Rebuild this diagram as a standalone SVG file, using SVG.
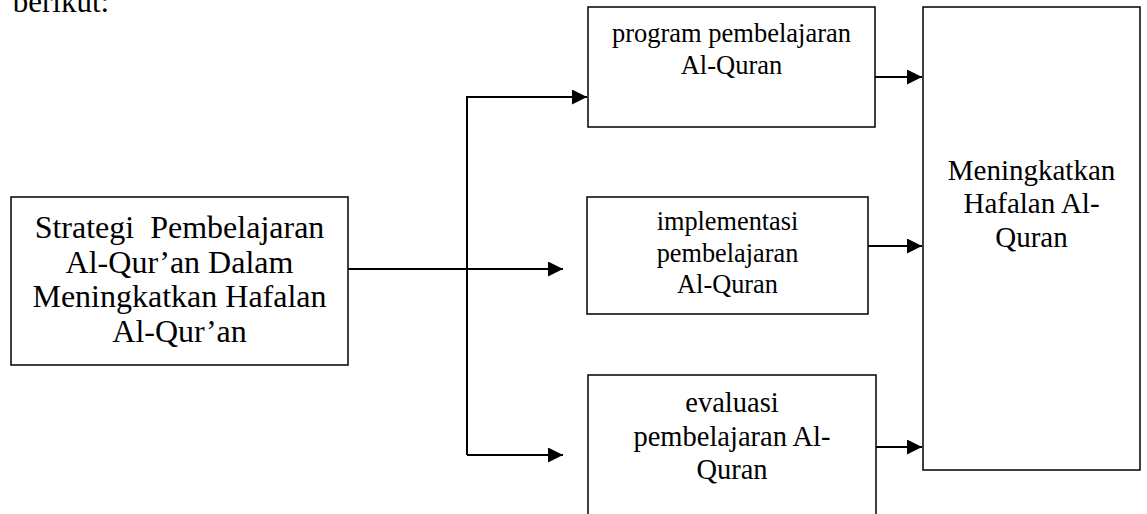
<svg xmlns="http://www.w3.org/2000/svg" width="1147" height="514" viewBox="0 0 1147 514">
<style>
.box{fill:#fff;stroke:#000;stroke-width:1.5}
.t{font-family:"Liberation Serif","Times New Roman",serif;fill:#000;text-anchor:middle}
.c{fill:none;stroke:#000;stroke-width:2;marker-end:url(#ah)}
</style>
<defs>
<marker id="ah" markerUnits="userSpaceOnUse" markerWidth="15" markerHeight="15" refX="15" refY="7.5" orient="auto" viewBox="0 0 15 15">
<path d="M0,0 L15,7.5 L0,15 z" fill="#000"/>
</marker>
</defs>
<rect width="1147" height="514" fill="#fff"/>
<text x="12.7" y="12" font-family="Liberation Serif, serif" font-size="31">berikut:</text>
<g id="connectors">
<path class="c" d="M348,269 H563"/>
<path class="c" d="M467,455 V97 H587"/>
<path class="c" d="M467,455 H563"/>
<path class="c" d="M875,77 H922"/>
<path class="c" d="M868,246 H922"/>
<path class="c" d="M875,447 H922"/>
</g>
<g id="node-strategi">
<rect class="box" x="11" y="197" width="337" height="168"/>
<text class="t" font-size="32" xml:space="preserve"><tspan x="179.5" y="238">Strategi  Pembelajaran</tspan><tspan x="179.5" y="272.5">Al-Qur’an Dalam</tspan><tspan x="179.5" y="307">Meningkatkan Hafalan</tspan><tspan x="179.5" y="341.5">Al-Qur’an</tspan></text>
</g>
<g id="node-program">
<rect class="box" x="588" y="7" width="287" height="120"/>
<text class="t" font-size="26.5"><tspan x="731.5" y="42">program pembelajaran</tspan><tspan x="731.5" y="73.5">Al-Quran</tspan></text>
</g>
<g id="node-implementasi">
<rect class="box" x="587" y="197" width="281" height="117"/>
<text class="t" font-size="26.3"><tspan x="727.5" y="230">implementasi</tspan><tspan x="727.5" y="261.7">pembelajaran</tspan><tspan x="727.5" y="293.3">Al-Quran</tspan></text>
</g>
<g id="node-evaluasi">
<rect class="box" x="588" y="375" width="288" height="160"/>
<text class="t" font-size="28.5"><tspan x="732" y="412.3">evaluasi</tspan><tspan x="732" y="445.7">pembelajaran Al-</tspan><tspan x="732" y="479">Quran</tspan></text>
</g>
<g id="node-meningkatkan">
<rect class="box" x="923" y="7" width="217" height="463"/>
<text class="t" font-size="29"><tspan x="1031.5" y="180">Meningkatkan</tspan><tspan x="1031.5" y="213.3">Hafalan Al-</tspan><tspan x="1031.5" y="246.6">Quran</tspan></text>
</g>
</svg>
